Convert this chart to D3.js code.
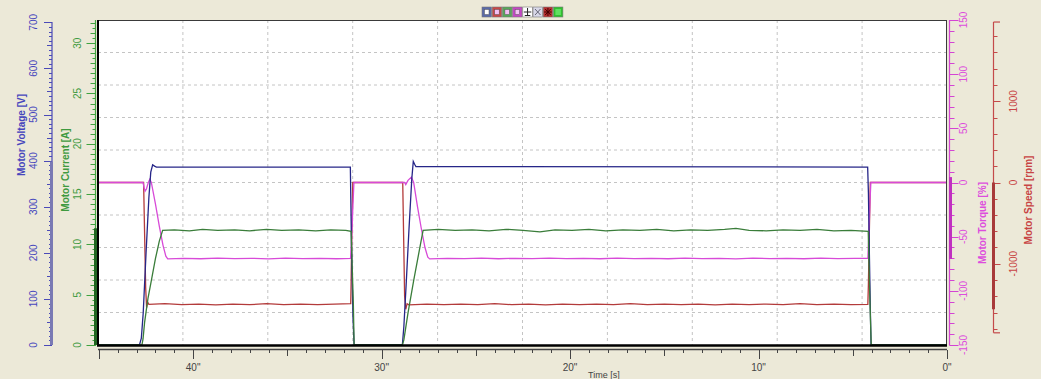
<!DOCTYPE html>
<html>
<head>
<meta charset="utf-8">
<script src="https://cdn.jsdelivr.net/npm/d3@7"></script>
<style>
  body { margin: 0; background: #ece9d8; }
  svg { display: block; font-family: "Liberation Sans", Arial, sans-serif; }
</style>
</head>
<body>
<svg id="chart" width="1041" height="379"></svg>
<script>
// time axis: seconds before the end of the recording (left = oldest)
const timeTicks = [40, 30, 20, 10, 0];

// [seconds, value] pairs
const voltage = [
  [45.05, 0], [42.85, 0], [42.75, 15], [42.65, 70], [42.5, 200], [42.35, 320], [42.25, 375],
  [42.15, 391], [42.05, 388], [41.95, 386], [31.66, 386], [31.6, 220], [31.52, 60], [31.46, 0],
  [28.9, 0], [28.82, 40], [28.7, 130], [28.55, 250], [28.4, 360], [28.32, 398], [28.25, 392],
  [28.18, 387], [4.21, 386], [4.17, 330], [4.12, 200], [4.06, 60], [4.03, 0], [0, 0]
];
const current = [
  [45.05, 0], [42.72, 0], [42.66, 0.6], [42.58, 2.2], [42.5, 3.3], [42.4, 4.6], [42.2, 6.6],
  [42.0, 8.6], [41.8, 10.3], [41.62, 11.4], [41.0, 11.45], [40.2, 11.35], [39.5, 11.5],
  [38.7, 11.4], [37.8, 11.45], [37.0, 11.35], [36.1, 11.5], [35.3, 11.4], [34.4, 11.45],
  [33.5, 11.35], [32.7, 11.45], [31.9, 11.4], [31.62, 11.3], [31.5, 4], [31.46, 0],
  [28.9, 0], [28.82, 0.5], [28.6, 3.2], [28.3, 6.4], [28.0, 9.4], [27.8, 11.4], [27.0, 11.5],
  [26.1, 11.4], [25.2, 11.45], [24.3, 11.35], [23.4, 11.5], [22.5, 11.4], [21.6, 11.25],
  [20.8, 11.45], [19.9, 11.4], [19.0, 11.5], [18.1, 11.35], [17.2, 11.45], [16.3, 11.4],
  [15.4, 11.5], [14.5, 11.35], [13.6, 11.45], [12.7, 11.4], [11.8, 11.5], [11.2, 11.6],
  [10.5, 11.4], [9.6, 11.35], [8.7, 11.45], [7.8, 11.4], [6.9, 11.5], [6.0, 11.35],
  [5.1, 11.4], [4.18, 11.3], [4.1, 5], [4.02, 0], [0, 0]
];
const torque = [
  [45.05, 0], [42.66, 0], [42.6, -5], [42.55, -8], [42.48, -6], [42.38, 0], [42.3, 3],
  [42.22, 0], [42.0, -20], [41.8, -40], [41.6, -58], [41.45, -68], [41.35, -70.5],
  [40.5, -70], [39.6, -70.4], [38.7, -69.8], [37.8, -70.3], [36.9, -70], [36.0, -70.5],
  [35.1, -69.9], [34.2, -70.2], [33.3, -70], [32.4, -70.4], [31.65, -70], [31.6, -55],
  [31.52, -20], [31.47, 0], [28.78, 0], [28.72, -2], [28.6, 2], [28.42, 5], [28.3, 0],
  [28.1, -22], [27.9, -42], [27.7, -60], [27.55, -69], [27.45, -70.5], [26.5, -70],
  [25.6, -70.3], [24.7, -69.8], [23.8, -70.4], [22.9, -70], [22.0, -70.3], [21.1, -69.9],
  [20.2, -70.2], [19.3, -70], [18.4, -70.4], [17.5, -69.9], [16.6, -70.2], [15.7, -70],
  [14.8, -70.4], [13.9, -69.8], [13.0, -70.2], [12.1, -70], [11.2, -70.5], [10.3, -69.9],
  [9.4, -70.2], [8.5, -70], [7.6, -70.4], [6.7, -69.9], [5.8, -70.2], [4.9, -70],
  [4.2, -70], [4.15, -50], [4.08, -15], [4.04, 0], [0, 0]
];
const speed = [
  [45.05, 0], [42.63, 0], [42.58, -600], [42.52, -1300], [42.47, -1540], [42.42, -1470],
  [42.35, -1500], [41.5, -1492], [40.6, -1503], [39.7, -1496], [38.8, -1506], [37.9, -1496],
  [37.0, -1503], [36.1, -1492], [35.2, -1503], [34.3, -1496], [33.4, -1503], [32.5, -1496],
  [31.64, -1492], [31.62, -1250], [31.58, -600], [31.53, 0], [28.88, 0], [28.83, -700],
  [28.78, -1400], [28.72, -1560], [28.65, -1492], [28.55, -1506], [27.6, -1496],
  [26.7, -1503], [25.8, -1496], [24.9, -1503], [24.0, -1492], [23.1, -1503], [22.2, -1496],
  [21.3, -1506], [20.4, -1496], [19.5, -1503], [18.6, -1496], [17.7, -1503], [16.8, -1492],
  [15.9, -1503], [15.0, -1496], [14.1, -1503], [13.2, -1496], [12.3, -1506], [11.4, -1496],
  [10.5, -1503], [9.6, -1496], [8.7, -1503], [7.8, -1492], [6.9, -1503], [6.0, -1496],
  [5.1, -1503], [4.2, -1500], [4.17, -1250], [4.12, -600], [4.07, 0], [0, 0]
];

const plot = { left: 98, right: 947, top: 20, bottom: 345 };
const svg = d3.select('#chart');

let x = d3.scaleLinear().domain([45.05, 0]).range([plot.left, plot.right]);
let yV = d3.scaleLinear().domain([0, 705]).range([plot.bottom, plot.top]);
let yI = d3.scaleLinear().domain([0, 32.3]).range([plot.bottom, plot.top]);
let yT = d3.scaleLinear().domain([-150, 150]).range([plot.bottom, plot.top]);
let yS = d3.scaleLinear().domain([-2000, 2000]).range([plot.bottom, plot.top]);

// plot background + grid
svg.append('rect')
  .attr('x', plot.left).attr('y', plot.top)
  .attr('width', plot.right - plot.left).attr('height', plot.bottom - plot.top)
  .attr('fill', '#fff');

let grid = svg.append('g')
  .attr('stroke', '#c4c4c4')
  .attr('stroke-dasharray', '3,3');
d3.range(1, 10).forEach(function(k) {
  let gx = plot.left + k * (plot.right - plot.left) / 10;
  let gy = plot.top + k * (plot.bottom - plot.top) / 10;
  grid.append('line').attr('x1', gx).attr('x2', gx).attr('y1', plot.top).attr('y2', plot.bottom);
  grid.append('line').attr('x1', plot.left).attr('x2', plot.right).attr('y1', gy).attr('y2', gy);
});

svg.append('defs').append('clipPath').attr('id', 'clip')
  .append('rect')
  .attr('x', plot.left).attr('y', plot.top - 2)
  .attr('width', plot.right - plot.left).attr('height', plot.bottom - plot.top + 2);

let series = [
  { data: speed, y: yS, colour: '#b33b3b' },
  { data: torque, y: yT, colour: '#d84ad8' },
  { data: voltage, y: yV, colour: '#262688' },
  { data: current, y: yI, colour: '#3a7d3a' }
];

let lines = svg.append('g').attr('clip-path', 'url(#clip)');
series.forEach(function(s) {
  lines.append('path')
    .datum(s.data)
    .attr('fill', 'none')
    .attr('stroke', s.colour)
    .attr('stroke-width', 1.3)
    .attr('d', d3.line().x(function(d) { return x(d[0]); }).y(function(d) { return s.y(d[1]); }));
});

// plot border
svg.append('line').attr('x1', plot.left).attr('x2', plot.right).attr('y1', plot.top + 0.5).attr('y2', plot.top + 0.5)
  .attr('stroke', '#3a3a3a');
svg.append('line').attr('x1', plot.right - 0.5).attr('x2', plot.right - 0.5).attr('y1', plot.top).attr('y2', plot.bottom)
  .attr('stroke', '#3a3a3a');
svg.append('line').attr('x1', plot.left).attr('x2', plot.left).attr('y1', plot.top).attr('y2', plot.bottom + 1)
  .attr('stroke', '#000').attr('stroke-width', 2);
svg.append('line').attr('x1', plot.left - 1).attr('x2', plot.right).attr('y1', plot.bottom + 0.5).attr('y2', plot.bottom + 0.5)
  .attr('stroke', '#000').attr('stroke-width', 2.5);

// vertical axes
function drawAxis(opts) {
  let g = svg.append('g').attr('stroke', opts.colour);
  let dir = opts.side;
  g.append('line')
    .attr('x1', opts.x).attr('x2', opts.x)
    .attr('y1', opts.y1).attr('y2', opts.y2)
    .attr('stroke-width', 1.2);
  opts.ticks.forEach(function(t) {
    g.selectAll(null)
      .data(t.values)
      .enter()
      .append('line')
      .attr('x1', opts.x)
      .attr('x2', opts.x + dir * t.len)
      .attr('y1', function(d) { return Math.round(opts.scale(d)) + 0.5; })
      .attr('y2', function(d) { return Math.round(opts.scale(d)) + 0.5; });
  });
  // min/max band of the signal
  let ext = d3.extent(opts.data, function(d) { return d[1]; });
  svg.append('line')
    .attr('x1', opts.x + opts.bandOff).attr('x2', opts.x + opts.bandOff)
    .attr('y1', opts.scale(ext[0])).attr('y2', opts.scale(ext[1]))
    .attr('stroke', opts.bandColour).attr('stroke-width', 3);

  svg.selectAll(null)
    .data(opts.labels)
    .enter()
    .append('text')
    .attr('transform', function(d) { return 'translate(' + opts.labelX + ',' + opts.scale(d) + ') rotate(-90)'; })
    .attr('text-anchor', 'middle')
    .attr('dy', '0.35em')
    .attr('font-size', 10)
    .attr('fill', opts.textColour)
    .text(function(d) { return d; });

  svg.append('text')
    .attr('transform', 'translate(' + opts.titleX + ',' + opts.titleY + ') rotate(-90)')
    .attr('text-anchor', 'middle')
    .attr('dy', '0.35em')
    .attr('font-size', 10)
    .attr('font-weight', 'bold')
    .attr('fill', opts.textColour)
    .text(opts.title);
}

drawAxis({
  x: 52, side: -1, y1: 22, y2: plot.bottom, scale: yV, colour: '#4a4ab8',
  ticks: [
    { values: d3.range(0, 701, 10), len: 3 },
    { values: d3.range(0, 701, 50), len: 5 },
    { values: d3.range(0, 701, 100), len: 8 }
  ],
  data: voltage, bandOff: -0.5, bandColour: '#7a7ab4',
  labels: d3.range(0, 701, 100), labelX: 33, textColour: '#4646bd',
  title: 'Motor Voltage [V]', titleX: 21, titleY: 135
});

drawAxis({
  x: 95.5, side: -1, y1: plot.top, y2: plot.bottom, scale: yI, colour: '#3fa33f',
  ticks: [
    { values: d3.range(0, 32.01, 0.5), len: 3 },
    { values: d3.range(0, 32.01, 1), len: 5 },
    { values: d3.range(0, 32.01, 5), len: 9 }
  ],
  data: current, bandOff: 0, bandColour: '#226622',
  labels: d3.range(0, 31, 5), labelX: 77, textColour: '#3f9a3f',
  title: 'Motor Current [A]', titleX: 65, titleY: 170
});

drawAxis({
  x: 949.5, side: 1, y1: plot.top, y2: plot.bottom, scale: yT, colour: '#d444d4',
  ticks: [
    { values: d3.range(-150, 151, 10), len: 5 },
    { values: d3.range(-150, 151, 50), len: 9 }
  ],
  data: torque, bandOff: 1, bandColour: '#c030c0',
  labels: d3.range(-150, 151, 50), labelX: 963, textColour: '#dd4ddd',
  title: 'Motor Torque [%]', titleX: 982, titleY: 223
});

drawAxis({
  x: 993.5, side: 1, y1: yS(1975), y2: yS(-1850), scale: yS, colour: '#c44a4a',
  ticks: [
    { values: d3.range(-1800, 1801, 200), len: 4 },
    { values: [-1000, 0, 1000], len: 7 }
  ],
  data: speed, bandOff: 0, bandColour: '#a83a3a',
  labels: [-1000, 0, 1000], labelX: 1013, textColour: '#c84444',
  title: 'Motor Speed [rpm]', titleX: 1028, titleY: 200
});
// caps at the ends of the speed axis
[1975, -1850].forEach(function(v) {
  svg.append('line')
    .attr('x1', 993.5).attr('x2', 1000)
    .attr('y1', yS(v)).attr('y2', yS(v))
    .attr('stroke', '#c44a4a').attr('stroke-width', 1.2);
});

// time axis
let tAxis = svg.append('g').attr('stroke', '#444');
tAxis.append('line')
  .attr('x1', plot.left).attr('x2', plot.right)
  .attr('y1', 349.5).attr('y2', 349.5)
  .attr('stroke-width', 1.5);
[{ v: d3.range(0, 46, 1), len: 3 }, { v: d3.range(0, 46, 5), len: 6 }, { v: d3.range(0, 41, 10).concat([45]), len: 9 }]
  .forEach(function(t) {
    tAxis.selectAll(null)
      .data(t.v)
      .enter()
      .append('line')
      .attr('x1', function(d) { return Math.round(x(d)) + 0.5; })
      .attr('x2', function(d) { return Math.round(x(d)) + 0.5; })
      .attr('y1', 350).attr('y2', 350 + t.len);
  });
svg.selectAll(null)
  .data(timeTicks)
  .enter()
  .append('text')
  .attr('x', function(d) { return x(d); })
  .attr('y', 371)
  .attr('text-anchor', 'middle')
  .attr('font-size', 10)
  .attr('fill', '#444')
  .text(function(d) { return d + '"'; });
svg.append('text')
  .attr('x', 588).attr('y', 378)
  .attr('font-size', 9).attr('fill', '#444')
  .text('Time [s]');

// little legend toolbar on top
let toolColours = ['#5a6aa8', '#c84848', '#58a858', '#c448c4', '#ffffff', '#d8d8e8', '#b83030', '#30c030'];
let toolbar = svg.append('g').attr('transform', 'translate(482,7)');
toolColours.forEach(function(c, i) {
  let g = toolbar.append('g').attr('transform', 'translate(' + (i * 10.2) + ',0)');
  g.append('rect').attr('width', 9.5).attr('height', 10).attr('fill', c).attr('stroke', '#777').attr('stroke-width', 0.6);
  if (i < 4) {
    g.append('rect').attr('x', 2.5).attr('y', 2.5).attr('width', 4.5).attr('height', 5)
      .attr('fill', i == 0 ? '#ffffff' : '#f4c0f4').attr('stroke', '#555').attr('stroke-width', 0.5);
  } else if (i == 4) {
    g.append('path').attr('d', 'M1,5H8.5M4.75,1V8.5M2,8.5H7.5').attr('stroke', '#222').attr('stroke-width', 1);
  } else if (i == 5) {
    g.append('path').attr('d', 'M2,2L7.5,8M7.5,2L2,8').attr('stroke', '#667').attr('stroke-width', 1);
  } else if (i == 6) {
    g.append('path').attr('d', 'M4.75,1V9M1,5H8.5M2,2L7.5,8M7.5,2L2,8').attr('stroke', '#400').attr('stroke-width', 1);
  } else {
    g.append('rect').attr('x', 2).attr('y', 2).attr('width', 5.5).attr('height', 6).attr('fill', '#60e060');
  }
});
</script>
</body>
</html>
